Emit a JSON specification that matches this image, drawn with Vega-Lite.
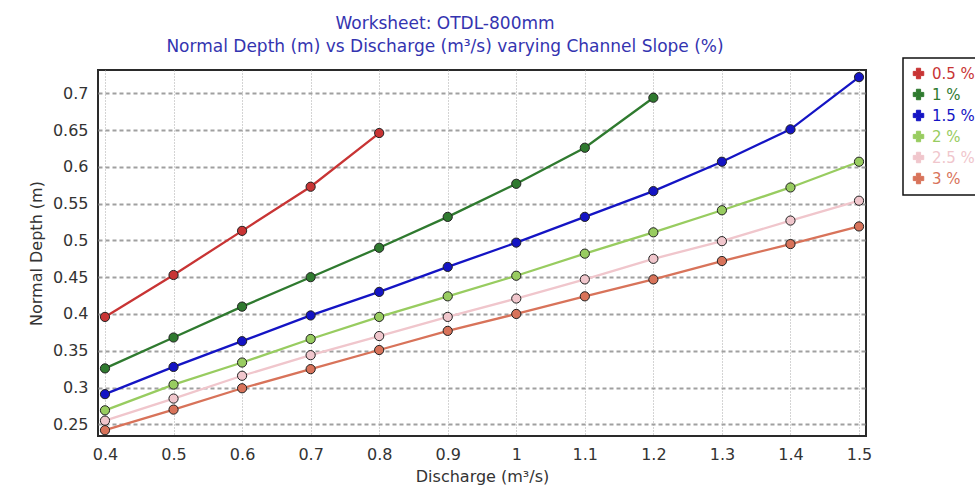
{
  "$schema": "https://vega.github.io/schema/vega-lite/v6.json",
  "width": 768,
  "height": 366,
  "autosize": {"type": "none"},
  "padding": {"left": 98, "top": 70, "right": 109, "bottom": 53},
  "background": "white",
  "title": {
    "text": ["Worksheet: OTDL-800mm", "Normal Depth (m) vs Discharge (m³/s) varying Channel Slope (%)"],
    "font": "DejaVu Sans",
    "fontSize": 17,
    "fontWeight": "normal",
    "color": "#3434b0",
    "lineHeight": 23,
    "anchor": "middle",
    "dx": -37,
    "offset": 1
  },
  "config": {
    "font": "DejaVu Sans",
    "view": {"stroke": "#2a2a2a", "strokeWidth": 2},
    "axis": {
      "domain": false,
      "ticks": false,
      "labelFont": "DejaVu Sans",
      "labelFontSize": 16,
      "labelColor": "#333333",
      "titleFont": "DejaVu Sans",
      "titleFontSize": 16,
      "titleFontWeight": "normal",
      "titleColor": "#333333",
      "gridOpacity": 1
    },
    "legend": {
      "labelFont": "DejaVu Sans",
      "labelFontSize": 15
    }
  },
  "data": {
    "values": [
      {"q": 0.4, "d": 0.396, "slope": "0.5 %"},
      {"q": 0.5, "d": 0.453, "slope": "0.5 %"},
      {"q": 0.6, "d": 0.513, "slope": "0.5 %"},
      {"q": 0.7, "d": 0.573, "slope": "0.5 %"},
      {"q": 0.8, "d": 0.646, "slope": "0.5 %"},

      {"q": 0.4, "d": 0.326, "slope": "1 %"},
      {"q": 0.5, "d": 0.368, "slope": "1 %"},
      {"q": 0.6, "d": 0.410, "slope": "1 %"},
      {"q": 0.7, "d": 0.450, "slope": "1 %"},
      {"q": 0.8, "d": 0.490, "slope": "1 %"},
      {"q": 0.9, "d": 0.532, "slope": "1 %"},
      {"q": 1.0, "d": 0.577, "slope": "1 %"},
      {"q": 1.1, "d": 0.626, "slope": "1 %"},
      {"q": 1.2, "d": 0.694, "slope": "1 %"},

      {"q": 0.4, "d": 0.291, "slope": "1.5 %"},
      {"q": 0.5, "d": 0.328, "slope": "1.5 %"},
      {"q": 0.6, "d": 0.363, "slope": "1.5 %"},
      {"q": 0.7, "d": 0.398, "slope": "1.5 %"},
      {"q": 0.8, "d": 0.430, "slope": "1.5 %"},
      {"q": 0.9, "d": 0.464, "slope": "1.5 %"},
      {"q": 1.0, "d": 0.497, "slope": "1.5 %"},
      {"q": 1.1, "d": 0.532, "slope": "1.5 %"},
      {"q": 1.2, "d": 0.567, "slope": "1.5 %"},
      {"q": 1.3, "d": 0.607, "slope": "1.5 %"},
      {"q": 1.4, "d": 0.651, "slope": "1.5 %"},
      {"q": 1.5, "d": 0.722, "slope": "1.5 %"},

      {"q": 0.4, "d": 0.269, "slope": "2 %"},
      {"q": 0.5, "d": 0.304, "slope": "2 %"},
      {"q": 0.6, "d": 0.334, "slope": "2 %"},
      {"q": 0.7, "d": 0.366, "slope": "2 %"},
      {"q": 0.8, "d": 0.396, "slope": "2 %"},
      {"q": 0.9, "d": 0.424, "slope": "2 %"},
      {"q": 1.0, "d": 0.452, "slope": "2 %"},
      {"q": 1.1, "d": 0.482, "slope": "2 %"},
      {"q": 1.2, "d": 0.511, "slope": "2 %"},
      {"q": 1.3, "d": 0.541, "slope": "2 %"},
      {"q": 1.4, "d": 0.572, "slope": "2 %"},
      {"q": 1.5, "d": 0.607, "slope": "2 %"},

      {"q": 0.4, "d": 0.255, "slope": "2.5 %"},
      {"q": 0.5, "d": 0.285, "slope": "2.5 %"},
      {"q": 0.6, "d": 0.316, "slope": "2.5 %"},
      {"q": 0.7, "d": 0.344, "slope": "2.5 %"},
      {"q": 0.8, "d": 0.370, "slope": "2.5 %"},
      {"q": 0.9, "d": 0.396, "slope": "2.5 %"},
      {"q": 1.0, "d": 0.421, "slope": "2.5 %"},
      {"q": 1.1, "d": 0.447, "slope": "2.5 %"},
      {"q": 1.2, "d": 0.475, "slope": "2.5 %"},
      {"q": 1.3, "d": 0.499, "slope": "2.5 %"},
      {"q": 1.4, "d": 0.527, "slope": "2.5 %"},
      {"q": 1.5, "d": 0.554, "slope": "2.5 %"},

      {"q": 0.4, "d": 0.242, "slope": "3 %"},
      {"q": 0.5, "d": 0.270, "slope": "3 %"},
      {"q": 0.6, "d": 0.299, "slope": "3 %"},
      {"q": 0.7, "d": 0.325, "slope": "3 %"},
      {"q": 0.8, "d": 0.351, "slope": "3 %"},
      {"q": 0.9, "d": 0.377, "slope": "3 %"},
      {"q": 1.0, "d": 0.400, "slope": "3 %"},
      {"q": 1.1, "d": 0.424, "slope": "3 %"},
      {"q": 1.2, "d": 0.447, "slope": "3 %"},
      {"q": 1.3, "d": 0.472, "slope": "3 %"},
      {"q": 1.4, "d": 0.495, "slope": "3 %"},
      {"q": 1.5, "d": 0.519, "slope": "3 %"}
    ]
  },
  "encoding": {
    "x": {
      "field": "q",
      "type": "quantitative",
      "scale": {"domain": [0.3898, 1.5102], "nice": false, "zero": false},
      "axis": {
        "title": "Discharge (m³/s)",
        "values": [0.4, 0.5, 0.6, 0.7, 0.8, 0.9, 1, 1.1, 1.2, 1.3, 1.4, 1.5],
        "format": "~g",
        "labelPadding": 10,
        "titlePadding": 6,
        "gridColor": "#a8a8a8",
        "gridWidth": 1,
        "gridDash": [1, 2]
      }
    },
    "y": {
      "field": "d",
      "type": "quantitative",
      "scale": {"domain": [0.2341, 0.7317], "nice": false, "zero": false},
      "axis": {
        "title": "Normal Depth (m)",
        "values": [0.25, 0.3, 0.35, 0.4, 0.45, 0.5, 0.55, 0.6, 0.65, 0.7],
        "format": "~g",
        "labelPadding": 10,
        "titlePadding": 8,
        "gridColor": "#a0a0a0",
        "gridWidth": 2,
        "gridDash": [4, 3]
      }
    },
    "color": {
      "field": "slope",
      "type": "nominal",
      "scale": {
        "domain": ["0.5 %", "1 %", "1.5 %", "2 %", "2.5 %", "3 %"],
        "range": ["#c83434", "#2f7a2f", "#1414c4", "#98cc60", "#f0c6cc", "#d8735a"]
      },
      "legend": {
        "title": null,
        "orient": "none",
        "legendX": 805,
        "legendY": -12,
        "padding": 8,
        "strokeColor": "#111111",
        "fillColor": "white",
        "symbolType": "cross",
        "symbolSize": 110,
        "rowPadding": 5,
        "labelOffset": 6,
        "labelLimit": 0,
        "encode": {
          "legend": {"update": {"strokeWidth": {"value": 1.5}}},
          "symbols": {
            "update": {
              "shape": {"value": "cross"},
              "fill": {"scale": "color", "field": "value"},
              "stroke": {"value": "#222222"},
              "strokeWidth": {"value": 1},
              "opacity": {"value": 1}
            }
          },
          "labels": {
            "update": {"fill": {"scale": "color", "field": "value"}}
          }
        }
      }
    }
  },
  "layer": [
    {"mark": {"type": "line", "strokeWidth": 2.3}},
    {"mark": {"type": "point", "filled": true, "size": 85, "stroke": "#222222", "strokeWidth": 1, "opacity": 1}}
  ]
}
